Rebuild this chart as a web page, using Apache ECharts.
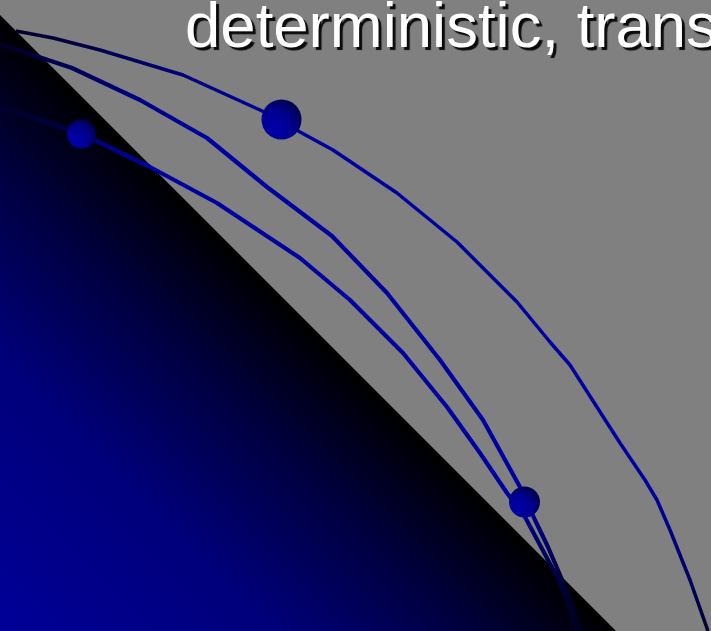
<!DOCTYPE html>
<html>
<head>
<meta charset="utf-8">
<script src="https://cdn.jsdelivr.net/npm/echarts@6/dist/echarts.min.js"></script>
<style>
html,body{margin:0;padding:0;background:#808080;}
#chart{width:711px;height:631px;}
</style>
</head>
<body>
<div id="chart"></div>
<script>
// ---- data (chart units) ----
const titleText = "deterministic, trans";

const regionX = [0, 616];
const regionY = [15, 631];

const curveAX = [16, 53, 100, 183, 260, 281, 300, 333, 397, 457, 517, 550, 570, 620, 645, 657, 670, 690, 708];
const curveAY = [31, 38, 50, 75, 110, 120, 132, 150, 193, 242, 302, 342, 365, 443, 480, 500, 530, 580, 631];

const curveBX = [0, 33, 72, 140, 207, 267, 332, 387, 440, 483, 520, 535, 548, 560, 570, 580];
const curveBY = [44, 55, 68, 100, 138, 187, 236, 293, 360, 420, 487, 520, 547, 575, 600, 631];

const curveCX = [0, 80, 150, 217, 300, 350, 403, 447, 480, 507, 525, 540, 556, 567, 576];
const curveCY = [107, 133, 167, 203, 258, 300, 353, 407, 453, 493, 517, 545, 575, 600, 631];

const markerX = [281.5, 81.5, 524.5];
const markerY = [119.5, 134, 502];
const markerValue = [40, 29, 31];

// ---- build ----
const zip = (xs, ys) => xs.map((x, i) => [x, ys[i]]);
const G = echarts.graphic;

function lineGrad(stops) {
  return new G.LinearGradient(0, 0, 1, 1, stops.map(s => ({offset: s[0], color: s[1]})));
}

const chart = echarts.init(document.getElementById('chart'), null, {renderer: 'canvas'});
chart.setOption({
  backgroundColor: '#808080',
  animation: false,
  title: {
    text: titleText,
    left: 180,
    top: -8,
    textStyle: {
      color: '#ffffff',
      fontFamily: 'Liberation Sans, Arial, sans-serif',
      fontWeight: 'normal',
      fontSize: 63.5,
      textShadowColor: 'rgba(10,10,10,1)',
      textShadowOffsetX: 3,
      textShadowOffsetY: 3,
      textShadowBlur: 1
    }
  },
  grid: {left: 0, right: 0, top: 0, bottom: 0},
  xAxis: {type: 'value', min: 0, max: 711, show: false},
  yAxis: {type: 'value', min: 0, max: 631, inverse: true, show: false},
  series: [
    {
      type: 'line',
      z: 1,
      data: zip(regionX, regionY),
      showSymbol: false,
      lineStyle: {width: 0},
      areaStyle: {
        origin: 'end',
        opacity: 1,
        color: new G.LinearGradient(0, 1, 0.5, 0.5, [
          {offset: 0, color: '#000098'},
          {offset: 0.45, color: '#00007a'},
          {offset: 0.75, color: '#000040'},
          {offset: 1, color: '#000000'}
        ])
      }
    },
    {
      type: 'line', z: 3, showSymbol: false,
      data: zip(curveAX, curveAY),
      lineStyle: {width: 3.5, color: lineGrad([
        [0, '#000025'], [0.08, '#00004c'], [0.2, '#000088'], [0.3, '#0000a0'],
        [0.85, '#0000a0'], [0.95, '#000060'], [1, '#000028']
      ])}
    },
    {
      type: 'line', z: 3, showSymbol: false,
      data: zip(curveBX, curveBY),
      lineStyle: {width: 4.2, color: lineGrad([
        [0, '#000020'], [0.05, '#000045'], [0.17, '#000085'], [0.26, '#0000a0'],
        [0.84, '#0000a0'], [0.9, '#000060'], [0.95, '#000030'], [1, '#000020']
      ])}
    },
    {
      type: 'line', z: 3, showSymbol: false,
      data: zip(curveCX, curveCY),
      lineStyle: {width: 4.2, color: lineGrad([
        [0, '#000028'], [0.08, '#000045'], [0.14, '#000088'], [0.2, '#0000a0'],
        [0.82, '#0000a0'], [0.89, '#000060'], [0.95, '#000030'], [1, '#000020']
      ])}
    },
    {
      type: 'scatter', z: 5,
      data: markerX.map((x, i) => [x, markerY[i], markerValue[i]]),
      symbol: 'circle',
      symbolSize: v => v[2],
      itemStyle: {
        opacity: 1,
        color: new G.RadialGradient(0.3, 0.72, 0.85, [
          {offset: 0, color: '#0000a8'},
          {offset: 0.5, color: '#000092'},
          {offset: 1, color: '#000040'}
        ])
      }
    }
  ]
});
</script>
</body>
</html>
